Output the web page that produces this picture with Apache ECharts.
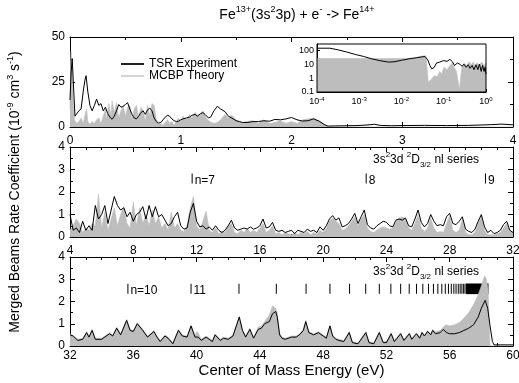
<!DOCTYPE html>
<html><head><meta charset="utf-8">
<script src="https://cdn.jsdelivr.net/npm/echarts@6/dist/echarts.min.js"></script>
<style>html,body{margin:0;padding:0;background:#fff}#c{width:519px;height:383px}</style>
</head><body><div id="c"></div>
<script>
// ---------- DATA ----------
// Top panel (0-4 eV): [energy, rate]
const topExp = [[0,15],[0.01,30],[0.02,38],[0.03,25],[0.045,6],[0.06,7],[0.08,9],[0.1,10],[0.12,20],[0.135,26],[0.145,28.5],[0.16,20],[0.18,12],[0.2,9],[0.22,12],[0.24,15.5],[0.26,12],[0.28,13],[0.3,9],[0.32,11],[0.34,7.5],[0.36,5.5],[0.38,4.3],[0.4,6],[0.42,9],[0.44,12.5],[0.46,11],[0.48,11.5],[0.5,12.5],[0.52,13.5],[0.54,10],[0.56,7],[0.58,5],[0.6,4.5],[0.62,6],[0.64,8],[0.66,9],[0.68,7],[0.7,9.5],[0.72,10.5],[0.74,9],[0.76,5],[0.78,3],[0.8,2.2],[0.82,2.5],[0.84,4],[0.86,5.5],[0.88,6.5],[0.9,6],[0.92,4.5],[0.94,3.5],[0.96,3],[0.98,3.2],[1.0,4],[1.02,4.5],[1.05,5],[1.08,5.5],[1.1,6.5],[1.13,7],[1.15,6],[1.18,7.5],[1.2,8],[1.22,7],[1.25,5],[1.27,5.5],[1.3,9],[1.33,11.5],[1.36,10],[1.4,8.5],[1.43,6],[1.46,5],[1.5,3.5],[1.53,3],[1.56,2.5],[1.6,2.5],[1.65,3],[1.7,3],[1.75,3.5],[1.8,3.2],[1.85,4.2],[1.9,4],[1.95,4.5],[2.0,5.3],[2.05,4],[2.1,3.3],[2.15,3.5],[2.2,4.5],[2.25,3.2],[2.3,1.2],[2.33,0.5],[2.4,0.6],[2.5,0.7],[2.6,0.8],[2.7,1.2],[2.75,1.5],[2.8,0.9],[2.9,0.7],[3.0,0.8],[3.2,0.9],[3.4,0.8],[3.6,0.9],[3.8,1.3],[3.9,1.6],[4.0,1.2]];
const topTheo = [[0,10],[0.005,35],[0.01,42],[0.02,30],[0.03,12],[0.04,4],[0.06,2],[0.08,3],[0.1,5],[0.12,2],[0.14,8],[0.15,10],[0.16,3],[0.18,1.5],[0.2,3],[0.22,2],[0.24,4],[0.26,5],[0.28,2],[0.3,6],[0.32,10],[0.33,4],[0.35,13],[0.37,6],[0.38,14.5],[0.4,8],[0.42,13.5],[0.44,5],[0.46,9],[0.48,12],[0.5,6],[0.52,11],[0.54,12],[0.56,4],[0.58,10],[0.6,12],[0.62,5],[0.64,11],[0.66,9],[0.68,3],[0.7,12],[0.72,6],[0.74,13],[0.76,12],[0.78,4],[0.8,1.5],[0.82,2],[0.84,1],[0.86,2.5],[0.88,4],[0.9,2],[0.92,3],[0.94,1],[0.96,3],[0.98,5],[1.0,3],[1.02,6],[1.05,4],[1.08,7],[1.1,5],[1.13,8],[1.16,6],[1.2,9],[1.23,5],[1.26,3],[1.3,2],[1.33,2.5],[1.36,4],[1.4,7],[1.43,5],[1.46,6.5],[1.5,4],[1.55,2.5],[1.6,3],[1.65,3.5],[1.7,2],[1.75,4],[1.8,2],[1.85,2.5],[1.9,3.5],[1.95,2],[2.0,3],[2.05,2],[2.1,4],[2.15,4.5],[2.2,5],[2.25,3.5],[2.3,1.5],[2.33,0],[4,0]];

// Inset (log-log): [energy, rate]
const insetExp = [[1e-4,140],[2e-4,140],[3e-4,110],[5e-4,75],[8e-4,50],[1.25e-3,36],[2e-3,24],[3e-3,18],[5e-3,14],[7e-3,15],[1e-2,19],[1.5e-2,24],[2.3e-2,29],[3e-2,33],[3.6e-2,35],[4.2e-2,20],[4.7e-2,8],[5.2e-2,4.6],[6e-2,6],[6.7e-2,12],[8e-2,14],[9.8e-2,18],[0.12,16],[0.14,22],[0.16,15],[0.18,8],[0.21,12],[0.24,10],[0.27,7],[0.3,10],[0.34,6],[0.38,9],[0.42,5],[0.47,8],[0.52,4],[0.58,9],[0.64,4],[0.7,10],[0.77,3],[0.83,8],[0.9,3],[0.95,6],[1,2]];
const insetTheo = [[1e-4,25],[1e-3,25],[1e-2,25],[2e-2,28],[3e-2,38],[3.8e-2,40],[4.1e-2,30],[4.3e-2,0.5],[5e-2,0.8],[6e-2,1.5],[7e-2,1.2],[8e-2,3],[9e-2,2],[0.1,6],[0.12,4],[0.14,8],[0.16,12],[0.18,5],[0.2,3],[0.22,0.5],[0.235,0.15],[0.25,1],[0.27,6],[0.3,12],[0.35,8],[0.4,15],[0.45,9],[0.5,14],[0.55,7],[0.6,12],[0.7,9],[0.8,14],[0.9,8],[1,12]];

// Middle panel (4-32 eV), sampled every 0.2 eV starting at 4 eV
const midE0 = 4, midStep = 0.2;
const midExp = [1.0,0.3,0.4,0.2,0.7,0.3,0.5,0.3,1.4,0.8,1.0,1.4,0.6,1.2,1.8,1.4,1.2,1.3,0.9,1.1,0.7,1.0,1.1,1.35,0.8,1.4,0.9,1.35,0.9,1.0,0.75,0.5,0.6,0.9,1.1,0.5,0.35,0.4,1.1,1.5,0.7,0.45,0.5,0.35,0.45,0.3,0.5,0.3,0.2,0.3,0.5,0.75,0.4,0.3,0.35,0.4,0.35,0.45,0.35,0.4,0.5,0.8,0.4,0.45,0.65,0.3,0.25,0.3,0.2,0.25,0.3,0.15,0.3,0.25,0.2,0.35,0.25,0.3,0.2,0.45,0.3,0.5,0.8,0.95,0.75,0.85,0.45,0.5,0.6,0.8,1.05,0.6,0.9,1.2,0.55,0.4,0.35,0.5,0.6,0.7,0.65,0.5,0.45,0.75,0.8,0.75,0.85,0.5,0.45,0.8,1.2,0.65,0.45,0.6,1.0,0.7,0.5,0.55,0.5,0.9,1.05,0.6,0.55,0.7,0.9,0.35,0.25,0.2,0.35,0.7,1.0,0.45,0.2,0.3,0.15,0.2,0.3,0.55,0.7,0.3,0.2];
const midTheo = [0.3,0.5,0.8,0.6,0.2,0.4,0.3,0.6,0.5,1.9,0.4,1.1,0.3,0.8,1.3,0.5,1.0,1.35,0.6,0.4,1.55,0.5,1.3,0.6,1.0,0.5,1.2,0.6,0.9,0.4,0.6,0.3,1.1,0.4,0.6,0.3,0.25,0.5,1.3,1.8,0.5,0.3,0.7,1.15,0.3,0.2,0.4,0.15,0.25,0.2,0.5,0.6,0.2,0.15,0.3,0.2,0.4,0.2,0.3,0.2,0.4,0.6,0.2,0.3,0.5,0.15,0.2,0.1,0.2,0.15,0.1,0.2,0.1,0.2,0.15,0.25,0.1,0.2,0.15,0.3,0.2,0.4,0.7,0.85,0.7,0.6,0.3,0.35,0.5,0.7,0.9,0.5,0.8,1.0,0.4,0.25,0.2,0.3,0.4,0.45,0.4,0.35,0.4,0.65,0.85,0.9,0.8,0.4,0.3,0.6,1.0,0.4,0.25,0.4,0.85,0.4,0.2,0.25,0.2,0.6,0.95,0.3,0.2,0.3,0.8,0.2,0.1,0.1,0.2,0.6,0.95,0.3,0.1,0.1,0.1,0.15,0.2,0.4,0.6,0.25,0.2];

// Bottom panel (32-60 eV): [energy, rate]
const botExp = [[32,0.5],[32.2,0.45],[32.5,0.25],[32.8,0.3],[33.05,0.6],[33.2,0.4],[33.4,0.7],[33.6,0.3],[34.0,0.3],[34.5,0.55],[34.7,0.45],[34.95,0.8],[35.2,0.5],[35.58,1.15],[35.8,0.7],[36.0,0.65],[36.25,1.0],[36.6,0.7],[36.9,0.4],[37.3,0.65],[37.5,0.4],[37.7,0.2],[38.0,0.45],[38.2,0.35],[38.5,0.1],[38.85,0.7],[39.1,0.45],[39.4,0.4],[39.65,0.9],[39.9,0.4],[40.1,0.4],[40.3,0.25],[40.6,0.4],[41.0,0.2],[41.17,0.5],[41.5,0.25],[41.7,0.35],[42.0,0.3],[42.3,0.45],[42.7,1.3],[42.9,0.7],[43.1,0.4],[43.37,0.75],[43.6,0.35],[43.9,0.75],[44.1,0.8],[44.3,1.0],[44.6,1.1],[44.8,1.45],[45.0,1.55],[45.1,1.3],[45.25,0.5],[45.4,0.35],[45.6,0.3],[46.0,0.4],[46.3,0.4],[46.5,0.5],[46.75,0.7],[46.9,1.1],[47.1,0.6],[47.4,0.5],[47.7,0.6],[48.0,0.45],[48.2,0.35],[48.43,0.9],[48.6,0.45],[48.8,0.3],[49.0,0.25],[49.3,0.2],[49.65,0.6],[49.85,0.15],[50.2,0.1],[50.7,0.6],[50.9,0.15],[51.2,0.1],[51.55,0.6],[51.8,0.15],[52.0,0.15],[52.3,0.55],[52.5,0.2],[52.9,0.55],[53.1,0.25],[53.45,0.55],[53.6,0.3],[53.9,0.55],[54.1,0.35],[54.25,0.6],[54.4,0.45],[54.6,0.65],[54.8,0.5],[54.92,0.7],[55.1,0.55],[55.4,0.6],[55.6,0.75],[55.8,0.6],[56.0,0.55],[56.3,0.55],[56.6,0.6],[56.9,0.7],[57.2,0.8],[57.5,0.95],[57.8,1.3],[58.0,1.7],[58.24,2.05],[58.4,1.7],[58.55,0.9],[58.7,0.2],[58.8,0.05],[59,0.05],[60,0.05]];
const botTheo = [[32,0.55],[32.2,0.45],[32.5,0.3],[32.8,0.35],[33.05,0.65],[33.2,0.45],[33.4,0.75],[33.6,0.35],[34.0,0.35],[34.5,0.6],[34.7,0.5],[34.95,0.85],[35.2,0.55],[35.58,1.2],[35.8,0.75],[36.0,0.7],[36.25,1.05],[36.6,0.75],[36.9,0.45],[37.3,0.7],[37.5,0.45],[37.7,0.25],[38.0,0.5],[38.2,0.4],[38.5,0.15],[38.85,0.75],[39.1,0.5],[39.4,0.45],[39.65,0.95],[39.9,0.5],[40.05,0.65],[40.3,0.3],[40.6,0.45],[41.0,0.25],[41.17,0.55],[41.5,0.3],[41.7,0.4],[42.0,0.35],[42.3,0.5],[42.7,1.35],[42.9,0.75],[43.1,0.45],[43.37,0.8],[43.6,0.4],[43.9,0.85],[44.1,0.9],[44.3,1.1],[44.6,1.4],[44.8,1.8],[45.0,1.7],[45.1,1.5],[45.25,0.6],[45.4,0.4],[45.6,0.35],[46.0,0.45],[46.3,0.45],[46.5,0.55],[46.75,0.75],[46.9,1.15],[47.1,0.65],[47.4,0.55],[47.7,0.65],[48.0,0.5],[48.2,0.4],[48.43,0.95],[48.6,0.5],[48.8,0.35],[49.0,0.3],[49.3,0.25],[49.65,0.65],[49.85,0.2],[50.2,0.15],[50.7,0.65],[50.9,0.2],[51.2,0.15],[51.55,0.65],[51.8,0.2],[52.0,0.2],[52.3,0.6],[52.5,0.25],[52.9,0.6],[53.1,0.3],[53.45,0.6],[53.6,0.35],[53.9,0.6],[54.1,0.4],[54.25,0.65],[54.4,0.5],[54.6,0.7],[54.8,0.55],[54.92,0.75],[55.1,0.65],[55.4,0.7],[55.6,0.85],[55.75,0.95],[56.0,0.9],[56.3,0.95],[56.6,1.05],[56.9,1.25],[57.2,1.5],[57.5,1.85],[57.8,2.3],[58.0,2.7],[58.2,3.15],[58.3,3.05],[58.42,2.6],[58.5,1.0],[58.55,0],[60,0]];

// Rydberg series positions (eV) and labels
const midSeriesE = [11.72, 22.72, 30.26];
const midSeriesLabels = ['n=7', '8', '9'];
const midSeriesLevel = 2.6;
const botSeriesE = [35.66,39.65,42.68,45.04,46.92,48.43,49.67,50.69,51.55,52.28,52.90,53.44,53.90,54.30,54.66,54.97,55.25,55.50,55.72,55.92,56.10,56.26,56.40,56.54,56.66,56.77,56.88,56.97,57.06];
const botSeriesLabels = ['n=10', '11'];
const botSeriesLevel = 2.57;
const botSeriesBlock = [[57.05, 2.33], [58.45, 2.81]];

// Tick labels
const topXTicks = [0, 4, 1];
const topYTicks = [0, 50, 25];
const midXTicks = [4, 32, 4];
const botXTicks = [32, 60, 4];
const rateYTicks = [0, 4, 1];
const insetX = [1e-4, 1];
const insetY = [0.1, 280];

// ---------- CHART ----------
const FONT = '"Liberation Sans", Arial, sans-serif';
const GRAY = '#bdbdbd';
const chart = echarts.init(document.getElementById('c'), null, {renderer: 'canvas'});

function xAx(grid, r, minorSplit, pos, labels, margin) {
  return {
    gridIndex: grid, type: 'value', min: r[0], max: r[1], interval: r[2], position: pos,
    axisLine: {show: true, onZero: false, lineStyle: {color: '#000', width: 1}},
    axisTick: {show: true, inside: true, length: 5, lineStyle: {color: '#000'}},
    minorTick: {show: true, splitNumber: minorSplit, length: 3, lineStyle: {color: '#000'}},
    splitLine: {show: false}, minorSplitLine: {show: false},
    axisLabel: {show: labels, fontSize: 12, color: '#000', fontFamily: FONT, margin: margin || 4, hideOverlap: false}
  };
}
function yAx(grid, r, minorSplit, pos, labels) {
  return {
    gridIndex: grid, type: 'value', min: r[0], max: r[1], interval: r[2], position: pos,
    axisLine: {show: true, onZero: false, lineStyle: {color: '#000', width: 1}},
    axisTick: {show: true, inside: true, length: 5, lineStyle: {color: '#000'}},
    minorTick: {show: true, splitNumber: minorSplit, length: 3, lineStyle: {color: '#000'}},
    splitLine: {show: false}, minorSplitLine: {show: false},
    axisLabel: {show: labels, fontSize: 12, color: '#000', fontFamily: FONT, margin: 5, hideOverlap: false}
  };
}

const midExpPts = midExp.map((v, i) => [midE0 + i * midStep, v]);
const midTheoPts = midTheo.map((v, i) => [midE0 + i * midStep, v]);

function theo(name, xi, yi, data) {
  return {name: name, type: 'line', xAxisIndex: xi, yAxisIndex: yi, data: data, symbol: 'none', showSymbol: false,
    silent: true, color: GRAY, lineStyle: {color: GRAY, width: 0.6}, itemStyle: {color: GRAY},
    areaStyle: {color: GRAY, opacity: 1, origin: 'start'}, z: 2};
}
function expt(name, xi, yi, data) {
  return {name: name, type: 'line', xAxisIndex: xi, yAxisIndex: yi, data: data, symbol: 'none', showSymbol: false,
    silent: true, color: '#000', lineStyle: {color: '#000', width: 1}, itemStyle: {color: '#000'}, z: 3};
}

const midMarks = midSeriesE.map((e, i) => [e, midSeriesLevel, midSeriesLabels[i] || '']);
const botMarks = botSeriesE.map((e, i) => [e, botSeriesLevel, botSeriesLabels[i] || '']);

function marks(xi, yi, data, block) {
  const s = {type: 'scatter', xAxisIndex: xi, yAxisIndex: yi, data: data, symbol: 'rect', symbolSize: [1, 10],
    silent: true, itemStyle: {color: '#000', opacity: 1}, z: 4,
    label: {show: true, position: 'right', distance: 2, offset: [0, 2], formatter: p => p.data[2],
      fontSize: 12, fontFamily: FONT, color: '#000', opacity: 1}};
  if (block) {
    s.markArea = {silent: true, itemStyle: {color: '#000', opacity: 1}, label: {show: false},
      data: [[{coord: block[0]}, {coord: block[1]}]]};
  }
  return s;
}

const annRich = {n: {fontSize: 12, fontFamily: FONT, fill: '#000', lineHeight: 18},
                 s: {fontSize: 8, fontFamily: FONT, fill: '#000', lineHeight: 9, verticalAlign: 'top'},
                 b: {fontSize: 8, fontFamily: FONT, fill: '#000', lineHeight: 9, verticalAlign: 'bottom'}};

const option = {
  animation: false,
  backgroundColor: '#fff',
  grid: [
    {left: 70, top: 37, width: 443, height: 90, outerBoundsMode: 'none'},
    {left: 70, top: 147, width: 443, height: 90, outerBoundsMode: 'none'},
    {left: 70, top: 257, width: 443, height: 89, outerBoundsMode: 'none'},
    {left: 317, top: 44, width: 169, height: 48, outerBoundsMode: 'none', show: true, borderColor: '#000', borderWidth: 1, backgroundColor: 'rgba(0,0,0,0)', z: 5}
  ],
  xAxis: [
    xAx(0, topXTicks, 2, 'bottom', true, 8), xAx(0, topXTicks, 2, 'top', false),
    xAx(1, midXTicks, 4, 'bottom', true, 8), xAx(1, midXTicks, 4, 'top', false),
    Object.assign(xAx(2, botXTicks, 4, 'bottom', true, 4), {
      name: 'Center of Mass Energy (eV)', nameLocation: 'middle', nameGap: 17,
      nameTextStyle: {fontSize: 15, fontFamily: FONT, color: '#000'}}),
    xAx(2, botXTicks, 4, 'top', false),
    {gridIndex: 3, type: 'log', logBase: 10, min: insetX[0], max: insetX[1], position: 'bottom',
      axisLine: {show: true, onZero: false, lineStyle: {color: '#000', width: 1}},
      axisTick: {show: true, inside: true, length: 3, lineStyle: {color: '#000'}},
      minorTick: {show: true, splitNumber: 9, length: 2, lineStyle: {color: '#000'}},
      splitLine: {show: false},
      axisLabel: {margin: 4, formatter: v => '{b|10}{s|' + Math.round(Math.log10(v)) + '}',
        rich: {b: {fontSize: 9, fontFamily: FONT, color: '#000', lineHeight: 12},
               s: {fontSize: 6, fontFamily: FONT, color: '#000', lineHeight: 7, verticalAlign: 'top'}}}}
  ],
  yAxis: [
    yAx(0, topYTicks, 2, 'left', true), yAx(0, topYTicks, 2, 'right', false),
    Object.assign(yAx(1, rateYTicks, 2, 'left', true), {
      name: '{n|Merged Beams Rate Coefficient (10}{s|-9}{n| cm}{s|3}{n| s}{s|-1}{n|)}',
      nameLocation: 'middle', nameGap: 45, nameRotate: 90,
      nameTextStyle: {rich: {
        n: {fontSize: 14, fontFamily: FONT, color: '#000', lineHeight: 19},
        s: {fontSize: 9, fontFamily: FONT, color: '#000', lineHeight: 10, verticalAlign: 'top'}}}}),
    yAx(1, rateYTicks, 2, 'right', false),
    yAx(2, rateYTicks, 2, 'left', true), yAx(2, rateYTicks, 2, 'right', false),
    {gridIndex: 3, type: 'log', logBase: 10, min: insetY[0], max: insetY[1], position: 'left',
      axisLine: {show: true, onZero: false, lineStyle: {color: '#000', width: 1}},
      axisTick: {show: true, inside: true, length: 3, lineStyle: {color: '#000'}},
      minorTick: {show: false},
      splitLine: {show: false},
      axisLabel: {margin: 3, fontSize: 9, fontFamily: FONT, color: '#000', showMaxLabel: false,
        formatter: v => (v >= 279 ? '' : String(v))}}
  ],
  legend: {
    orient: 'vertical', left: 116, top: 53, itemWidth: 23, itemHeight: 2, itemGap: 0,
    selectedMode: false,
    textStyle: {fontSize: 12, fontFamily: FONT, color: '#000', lineHeight: 12},
    data: [
      {name: 'TSR Experiment', icon: 'rect', itemStyle: {color: '#222'}},
      {name: 'MCBP Theory', icon: 'rect', itemStyle: {color: '#d4d4d4'}}
    ]
  },
  graphic: [
    {type: 'text', x: 297, y: 15, z: 10, style: {
      text: '{n|Fe}{s|13+}{n|(3s}{s|2}{n|3p) + e}{s|-}{n| -> Fe}{s|14+}',
      align: 'center', verticalAlign: 'middle',
      rich: {n: {fontSize: 14, fontFamily: FONT, fill: '#000', lineHeight: 20},
             s: {fontSize: 9, fontFamily: FONT, fill: '#000', lineHeight: 10, verticalAlign: 'top'}}}},
    {type: 'text', x: 373, y: 160, z: 10, style: {
      text: '{n|3s}{s|2}{n|3d }{s|2}{n|D}{b|3/2}{n| nl series}', align: 'left', verticalAlign: 'middle', rich: annRich}},
    {type: 'text', x: 373, y: 272, z: 10, style: {
      text: '{n|3s}{s|2}{n|3d }{s|2}{n|D}{b|3/2}{n| nl series}', align: 'left', verticalAlign: 'middle', rich: annRich}}
  ],
  series: [
    theo('MCBP Theory', 0, 0, topTheo),
    expt('TSR Experiment', 0, 0, topExp),
    theo('MCBP Theory', 2, 2, midTheoPts),
    expt('TSR Experiment', 2, 2, midExpPts),
    theo('MCBP Theory', 4, 4, botTheo),
    expt('TSR Experiment', 4, 4, botExp),
    theo('MCBP Theory', 6, 6, insetTheo),
    expt('TSR Experiment', 6, 6, insetExp),
    marks(2, 2, midMarks, null),
    marks(4, 4, botMarks, botSeriesBlock)
  ]
};
chart.setOption(option);
</script></body></html>
